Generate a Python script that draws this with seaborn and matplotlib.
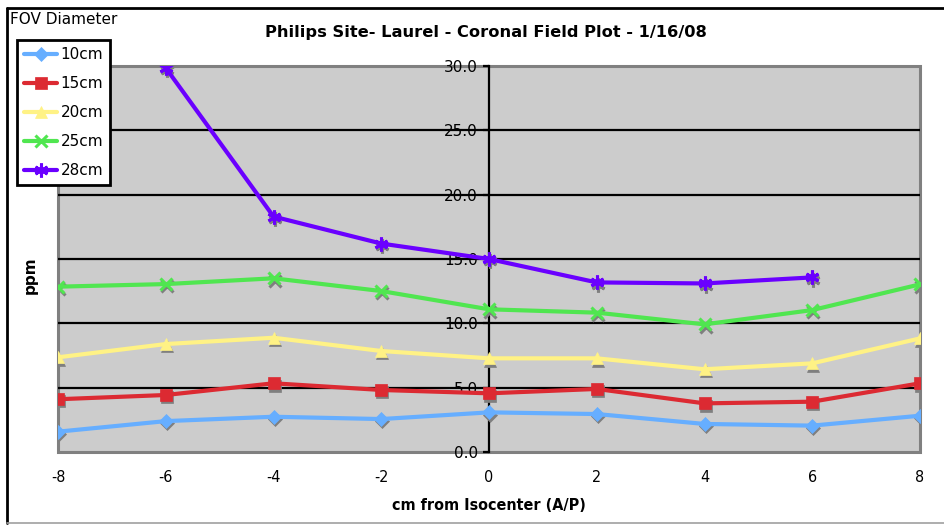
import matplotlib
matplotlib.use("Agg")
import matplotlib.pyplot as plt
from matplotlib.lines import Line2D
from matplotlib.transforms import ScaledTranslation
import pandas as pd
import seaborn as sns

# Positions along the anterior/posterior axis (cm from isocenter)
positions = [-8, -6, -4, -2, 0, 2, 4, 6, 8]

# Field homogeneity (ppm) for each FOV diameter
fov_10cm = [1.58, 2.40, 2.74, 2.56, 3.08, 2.95, 2.18, 2.05, 2.82]
fov_15cm = [4.10, 4.43, 5.34, 4.82, 4.56, 4.90, 3.78, 3.91, 5.34]
fov_20cm = [7.36, 8.39, 8.88, 7.85, 7.28, 7.28, 6.43, 6.89, 8.83]
fov_25cm = [12.85, 13.05, 13.50, 12.51, 11.09, 10.83, 9.92, 11.03, 13.03]
fov_28cm = [None, 29.85, 18.30, 16.20, 15.00, 13.18, 13.10, 13.57, None]

series_names = ["10cm", "15cm", "20cm", "25cm", "28cm"]
series_values = [fov_10cm, fov_15cm, fov_20cm, fov_25cm, fov_28cm]
series_colors = ["#66AEFF", "#DC2A32", "#FFF285", "#50E650", "#6A00FF"]
series_markers = ["D", "s", "^", "x", (6, 2, 0)]
series_msize = [7, 8.5, 8.5, 9, 10]

y_ticks = [0, 5, 10, 15, 20, 25, 30]

rows = []
for name, vals in zip(series_names, series_values):
    for x, v in zip(positions, vals):
        if v is not None:
            rows.append({"pos": x, "ppm": v, "fov": name})
df = pd.DataFrame(rows)

sns.set_theme(style="white")
plt.rcParams["font.family"] = ["DejaVu Sans"]
plt.rcParams["text.color"] = "black"
plt.rcParams["axes.labelcolor"] = "black"

W, H = 944, 525
fig = plt.figure(figsize=(W / 100, H / 100), dpi=100)
ax = fig.add_axes([58 / W, 1 - 452 / H, (920 - 58) / W, (452 - 66) / H])
ax.set_facecolor("#CCCCCC")

shadow = ax.transData + ScaledTranslation(0.8 / 72, -1.6 / 72, fig.dpi_scale_trans)
for name, color, mk, ms in zip(series_names, series_colors, series_markers, series_msize):
    sub = df[df["fov"] == name]
    filled = mk not in ("x", (6, 2, 0))
    # soft grey drop shadow under the markers
    ax.plot(sub["pos"], sub["ppm"], linestyle="none", marker=mk, markersize=ms,
            color="#7F7F7F", markeredgecolor="#7F7F7F",
            markeredgewidth=2.2 if not filled else 0.5, transform=shadow, zorder=3)
    sns.lineplot(data=sub, x="pos", y="ppm", ax=ax, color=color, linewidth=3.0,
                 marker=mk, markersize=ms, markeredgecolor=color,
                 markeredgewidth=2.2 if not filled else 0.5, label=name,
                 zorder=4, estimator=None, sort=False)

ax.set_xlim(-8, 8)
ax.set_ylim(0, 30)
ax.set_xticks(positions)
ax.set_xticklabels([str(p) for p in positions])
ax.set_yticks(y_ticks)
ax.set_yticklabels([f"{t:.1f}" for t in y_ticks])

# horizontal grid lines
for t in y_ticks[1:-1]:
    ax.axhline(t, color="black", linewidth=1.6, zorder=1)

for side in ("top", "right", "bottom"):
    ax.spines[side].set_visible(False)
ax.spines["left"].set_position(("data", 0))
ax.spines["left"].set_color("black")
ax.spines["left"].set_linewidth(1.6)
ax.spines["left"].set_zorder(1.5)
ax.patch.set_edgecolor("#808080")
ax.patch.set_linewidth(2.2)

ax.tick_params(axis="y", direction="out", length=4, width=1.6, color="black",
               pad=4, labelsize=11, labelcolor="black", left=True)
ax.tick_params(axis="x", length=0, pad=13, labelsize=11.5, labelcolor="black")
for lbl in ax.get_xticklabels():
    lbl.set_fontstretch("condensed")

ax.set_xlabel("cm from Isocenter (A/P)", fontsize=11.5, fontweight="bold",
              fontstretch="condensed", labelpad=9, color="black")
ax.set_ylabel("")
fig.text(30 / W, 1 - 275 / H, "ppm", rotation=90, ha="center", va="center",
         fontsize=11, fontweight="bold", color="black")

fig.text(486 / W, 1 - 33 / H, "Philips Site- Laurel - Coronal Field Plot - 1/16/08",
         ha="center", va="center", fontsize=11.7, fontweight="bold", color="black")
fig.text(10 / W, 1 - 20 / H, "FOV Diameter", ha="left", va="center",
         fontsize=11, color="black")

leg = ax.legend(loc="upper left", bbox_to_anchor=(17 / W, 1 - 40 / H),
                bbox_transform=fig.transFigure, frameon=True, fancybox=False,
                fontsize=11, handlelength=2.2, handletextpad=0.2,
                labelspacing=0.92, borderpad=0.45, borderaxespad=0)
leg.get_frame().set_edgecolor("black")
leg.get_frame().set_linewidth(2)
leg.get_frame().set_facecolor("white")
leg.get_frame().set_alpha(1)
leg.set_zorder(10)
for txt in leg.get_texts():
    txt.set_color("black")

# outer chart border
fig.add_artist(Line2D([7 / W, 7 / W], [1 - 8 / H, 1 - 523 / H],
                      transform=fig.transFigure, color="black", linewidth=2))
fig.add_artist(Line2D([7 / W, 1.0], [1 - 8 / H, 1 - 8 / H],
                      transform=fig.transFigure, color="black", linewidth=2))
fig.add_artist(Line2D([7 / W, 1.0], [1 - 523 / H, 1 - 523 / H],
                      transform=fig.transFigure, color="#A0A0A0", linewidth=1.2))

fig.savefig("out.png", dpi=100, facecolor="white")
